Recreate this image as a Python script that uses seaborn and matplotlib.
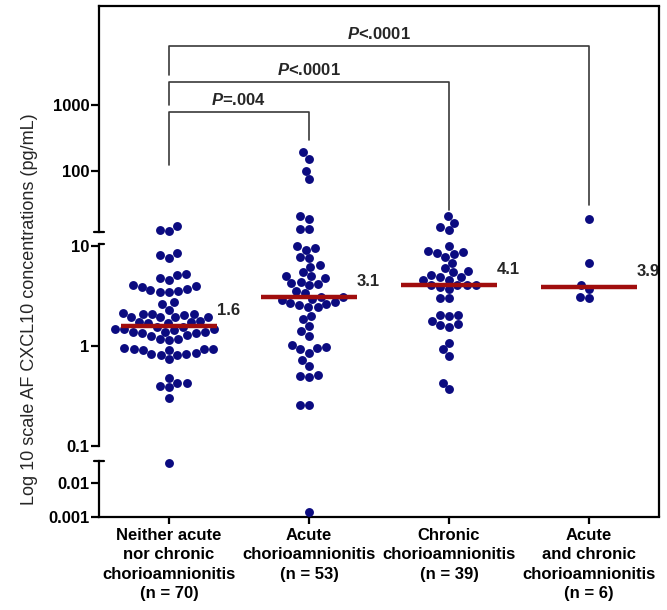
import numpy as np
import pandas as pd
import matplotlib
matplotlib.use("Agg")
import matplotlib.pyplot as plt
from matplotlib.lines import Line2D
from matplotlib.ticker import NullLocator
import seaborn as sns

# Values (pg/mL)
groups = ["Neither", "Acute", "Chronic", "Acute and chronic"]
tick_labels = [
    "Neither acute\nnor chronic\nchorioamnionitis\n(n = 70)",
    "Acute\nchorioamnionitis\n(n = 53)",
    "Chronic\nchorioamnionitis\n(n = 39)",
    "Acute\nand chronic\nchorioamnionitis\n(n = 6)",
]
neither = [
    14.7, 12.3, 12.8, 8.1, 7.6, 8.5, 5.1, 4.6, 4.8, 5.2,
    4.07, 3.9, 3.6, 3.47, 3.45, 3.55, 3.7, 4.0, 2.63, 2.75,
    2.31, 2.12, 2.09, 2.08, 2.1, 2.06, 1.94, 1.95, 1.93, 1.96,
    1.78, 1.74, 1.72, 1.7, 1.68,
    1.56, 1.55, 1.49, 1.48, 1.47, 1.46, 1.38, 1.37, 1.36, 1.35,
    1.39, 1.27, 1.28, 1.18, 1.16, 1.17, 0.94, 0.93, 0.92, 0.95,
    0.91, 0.93, 0.84, 0.83, 0.82, 0.85, 0.81, 0.74,
    0.48, 0.43, 0.39, 0.40, 0.43, 0.30, 0.04,
]
acute = [
    192, 150, 101, 75, 20.8, 18.5, 13.1, 13.2,
    9.5, 9.9, 9.2, 7.7, 7.6, 6.4, 6.2, 5.5,
    4.97, 4.4, 4.17, 4.07, 4.27, 4.75, 5.05, 3.39, 3.57, 3.12, 3.1,
    2.95, 2.77, 2.63, 2.44, 2.45, 2.59, 2.69, 2.9, 1.86, 2.01,
    1.42, 1.27, 1.6, 1.02, 0.95, 0.86, 0.93, 0.98, 0.72, 0.63,
    0.50, 0.49, 0.51, 0.26, 0.26, 0.00145,
]
chronic = [
    20.8, 16.5, 14.0, 12.8, 9.9, 8.3, 8.65, 8.6, 8.85, 7.7,
    6.76, 6.0, 5.5, 4.94, 4.9, 5.13, 5.67, 4.6, 4.57,
    4.1, 4.1, 4.1, 4.12, 3.86, 3.72, 3.0, 3.0, 2.06, 1.98, 2.05,
    1.79, 1.62, 1.56, 1.66, 1.07, 0.93, 0.80, 0.43, 0.37,
]
acute_chronic = [18.7, 6.76, 4.1, 3.72, 3.0, 3.11]
medians = [1.6, 3.1, 4.1, 3.9]
comparisons = [(0, 3, "$P$<.0001"), (0, 2, "$P$<.0001"), (0, 1, "$P$=.004")]

df = pd.DataFrame({
    "group": np.repeat(groups, [len(neither), len(acute), len(chronic), len(acute_chronic)]),
    "value": neither + acute + chronic + acute_chronic,
})

sns.set_style("ticks")
plt.rcParams["font.family"] = ["Liberation Sans", "DejaVu Sans"]
plt.rcParams["mathtext.fontset"] = "custom"
plt.rcParams["mathtext.it"] = "Liberation Sans:italic:bold"
plt.rcParams["mathtext.rm"] = "Liberation Sans:bold"

dot_color = "#0B0B80"
red = "#A00D0D"
W, H = 667, 610
fig = plt.figure(figsize=(W / 100, H / 100), dpi=100)


def px_axes(top, bottom):
    return fig.add_axes([99 / W, (H - bottom) / H, 560 / W, (bottom - top) / H])


ax_top = px_axes(6, 232)
ax_mid = px_axes(244, 446)
ax_bot = px_axes(461, 517)

segments = [
    (ax_top, 11, 1e6, (10 ** 1.076, 10 ** 4.5), [100, 1000]),
    (ax_mid, 0.1, 11, (0.1, 10 ** 1.02), [0.1, 1, 10]),
    (ax_bot, 0, 0.1, (0.001, 10 ** -1.35), [0.001, 0.01]),
]

for ax, lo, hi, lim, ticks in segments:
    sub = df[(df["value"] >= lo) & (df["value"] < hi)]
    sns.swarmplot(data=sub, x="group", y="value", order=groups, ax=ax,
                  color=dot_color, size=6.4, linewidth=0, log_scale=True)
    ax.set_ylim(*lim)
    ax.set_xlim(-0.5, 3.5)
    ax.set_yticks(ticks)
    ax.set_yticklabels([f"{t:g}" for t in ticks], fontweight="bold", fontsize=12)
    ax.yaxis.set_minor_locator(NullLocator())
    ax.set_xlabel("")
    ax.set_ylabel("")
    ax.spines["right"].set_visible(False)
    for s in ax.spines.values():
        s.set_linewidth(1.6)
        s.set_color("black")
    ax.tick_params(axis="y", length=6, width=1.6, pad=1, colors="black")
    for c in ax.collections:
        c.set_clip_on(False)

ax_top.spines["bottom"].set_visible(False)
ax_mid.spines["top"].set_visible(False)
ax_mid.spines["bottom"].set_visible(False)
ax_bot.spines["top"].set_visible(False)
for ax in (ax_top, ax_mid):
    ax.tick_params(axis="x", bottom=False, labelbottom=False)

ax_bot.set_xticks(range(len(groups)))
ax_bot.set_xticklabels(tick_labels, fontweight="bold", fontsize=12, linespacing=1.35)
ax_bot.tick_params(axis="x", length=5, width=1.6, pad=3, colors="black")

# median lines and labels
for i, m in enumerate(medians):
    ax_mid.hlines(m, i - 0.34, i + 0.34, color=red, lw=3.2, zorder=5)
    ax_mid.text(i + 0.34, m * 10 ** 0.15, f"{m:.1f}", fontweight="bold",
                fontsize=12, va="center", ha="left")

# significance brackets (y in axes fraction of the top segment)
trans = ax_top.get_xaxis_transform()
bracket_y = [(0.823, 0.695, 0.119), (0.664, 0.562, 0.097), (0.531, 0.296, 0.407)]
for (a, b, label), (y, yl, yr) in zip(comparisons, bracket_y):
    ax_top.plot([a, a, b, b], [yl, y, y, yr], color="#3a3a3a", lw=1.2,
                transform=trans, clip_on=False)
    ax_top.text((a + b) / 2, y + 0.03, label, transform=trans, ha="center",
                va="baseline", fontsize=12, fontweight="bold")

# axis break caps and right frame line
x0 = 99 / W
d = 5 / W
for y, left in [(232, True), (244, False), (461, True)]:
    fig.add_artist(Line2D([x0 - d if left else x0, x0 + d], [(H - y) / H] * 2,
                          color="black", lw=1.6))
fig.add_artist(Line2D([659 / W] * 2, [(H - 517) / H, (H - 6) / H], color="black", lw=1.6))

fig.text(30 / W, (H - 309) / H, "Log 10 scale AF CXCL10 concentrations (pg/mL)",
         rotation=90, ha="center", va="center", fontsize=13)

fig.savefig("out.png", dpi=100)
